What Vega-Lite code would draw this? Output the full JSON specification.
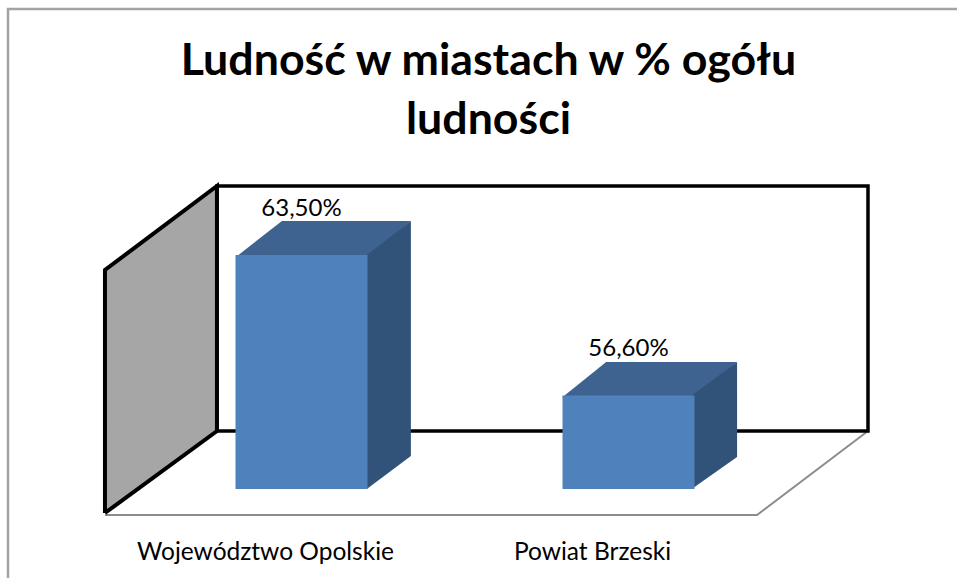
{
"$schema":"https://vega.github.io/schema/vega-lite/v6.json",
"width":957,"height":578,"padding":0,"autosize":{"type":"none"},
"background":"white",
"title":{"text":["Ludność w miastach w % ogółu","ludności"],"font":"Lato","fontSize":44.7,"fontWeight":"bold","color":"black","anchor":"middle","frame":"group","orient":"top","offset":0,"dx":10,"dy":179,"baseline":"alphabetic","lineHeight":59},
"config":{"view":{"stroke":null}},
"datasets":{
"bars":[{"category":"Województwo Opolskie","value":63.5,"label":"63,50%"},{"category":"Powiat Brzeski","value":56.6,"label":"56,60%"}],
"surfaces":[
{"surface":"border","order":1,"pos":-0.294,"level":47.627},
{"surface":"border","order":2,"pos":-0.294,"level":75.587},
{"surface":"border","order":3,"pos":2.613,"level":75.587},
{"surface":"sideWall","order":1,"pos":0.003,"level":50.821},
{"surface":"sideWall","order":2,"pos":0.003,"level":62.762},
{"surface":"sideWall","order":3,"pos":0.346,"level":66.889},
{"surface":"sideWall","order":4,"pos":0.346,"level":54.85},
{"surface":"sideWall","order":5,"pos":0.003,"level":50.821},
{"surface":"backWall","order":1,"pos":0.346,"level":54.85},
{"surface":"backWall","order":2,"pos":0.346,"level":66.889},
{"surface":"backWall","order":3,"pos":2.34,"level":66.889},
{"surface":"backWall","order":4,"pos":2.34,"level":54.85},
{"surface":"backWall","order":5,"pos":0.346,"level":54.85},
{"surface":"floor","order":1,"pos":0.003,"level":50.722},
{"surface":"floor","order":2,"pos":2.0,"level":50.722},
{"surface":"floor","order":3,"pos":2.34,"level":54.85},
{"surface":"barTop","bar":"a","order":1,"pos":0.404,"level":63.4},
{"surface":"barTop","bar":"a","order":2,"pos":0.809,"level":63.4},
{"surface":"barTop","bar":"a","order":3,"pos":0.94,"level":65.17},
{"surface":"barTop","bar":"a","order":4,"pos":0.545,"level":65.17},
{"surface":"barTop","bar":"b","order":1,"pos":1.403,"level":56.5},
{"surface":"barTop","bar":"b","order":2,"pos":1.804,"level":56.5},
{"surface":"barTop","bar":"b","order":3,"pos":1.939,"level":58.241},
{"surface":"barTop","bar":"b","order":4,"pos":1.538,"level":58.241},
{"surface":"barSide","bar":"a","order":1,"pos":0.805,"level":63.5},
{"surface":"barSide","bar":"a","order":2,"pos":0.94,"level":65.17},
{"surface":"barSide","bar":"a","order":3,"pos":0.94,"level":53.622},
{"surface":"barSide","bar":"a","order":4,"pos":0.805,"level":52},
{"surface":"barSide","bar":"b","order":1,"pos":1.8,"level":56.6},
{"surface":"barSide","bar":"b","order":2,"pos":1.939,"level":58.241},
{"surface":"barSide","bar":"b","order":3,"pos":1.939,"level":53.572},
{"surface":"barSide","bar":"b","order":4,"pos":1.8,"level":52}
]},
"layer":[
{"data":{"name":"surfaces"},
 "encoding":{
  "x":{"field":"pos","type":"quantitative","scale":{"domain":[-0.3185,2.6126],"nice":false,"zero":false},"axis":null},
  "y":{"field":"level","type":"quantitative","scale":{"domain":[47.627,76.03],"nice":false,"zero":false},"axis":null},
  "order":{"field":"order","type":"quantitative"}
 },
 "layer":[
  {"transform":[{"filter":"datum.surface==='border'"}],"mark":{"type":"line","stroke":"#a3a3a3","strokeWidth":2.5}},
  {"transform":[{"filter":"datum.surface==='floor'"}],"mark":{"type":"line","stroke":"#8c8c8c","strokeWidth":2}},
  {"transform":[{"filter":"datum.surface==='sideWall'"}],"mark":{"type":"line","fill":"#a6a6a6","stroke":"black","strokeWidth":4,"strokeJoin":"miter"}},
  {"transform":[{"filter":"datum.surface==='backWall'"}],"mark":{"type":"line","stroke":"black","strokeWidth":3.5,"strokeJoin":"miter"}},
  {"transform":[{"filter":"datum.surface==='barTop'"}],"mark":{"type":"line","fill":"#3e6390","strokeWidth":0},"encoding":{"detail":{"field":"bar"}}},
  {"transform":[{"filter":"datum.surface==='barSide'"}],"mark":{"type":"line","fill":"#325379","strokeWidth":0},"encoding":{"detail":{"field":"bar"}}}
 ]},
{"data":{"name":"bars"},
 "encoding":{
  "x":{"field":"category","type":"nominal","sort":null,"scale":{"type":"band","range":[102,756],"paddingInner":0,"paddingOuter":0},
   "axis":{"title":null,"domain":false,"ticks":false,"grid":false,"labelAngle":0,"labelFont":"Lato","labelFontSize":24.5,"labelColor":"black","labelLimit":0,"labelOverlap":false,"offset":-26,"labelPadding":0,"labelBaseline":"middle"}},
  "y":{"field":"value","type":"quantitative","scale":{"domain":[47.627,76.03],"nice":false,"zero":false},"axis":null}
 },
 "layer":[
  {"mark":{"type":"bar","width":132,"xOffset":36,"fill":"#4f81bd"},"encoding":{"y2":{"datum":52}}},
  {"mark":{"type":"text","xOffset":36,"yOffset":-39,"baseline":"alphabetic","align":"center","font":"Lato","fontSize":24,"fill":"black"},"encoding":{"text":{"field":"label"}}}
 ]}
],
"resolve":{"scale":{"x":"independent"},"axis":{"x":"independent"}}
}
